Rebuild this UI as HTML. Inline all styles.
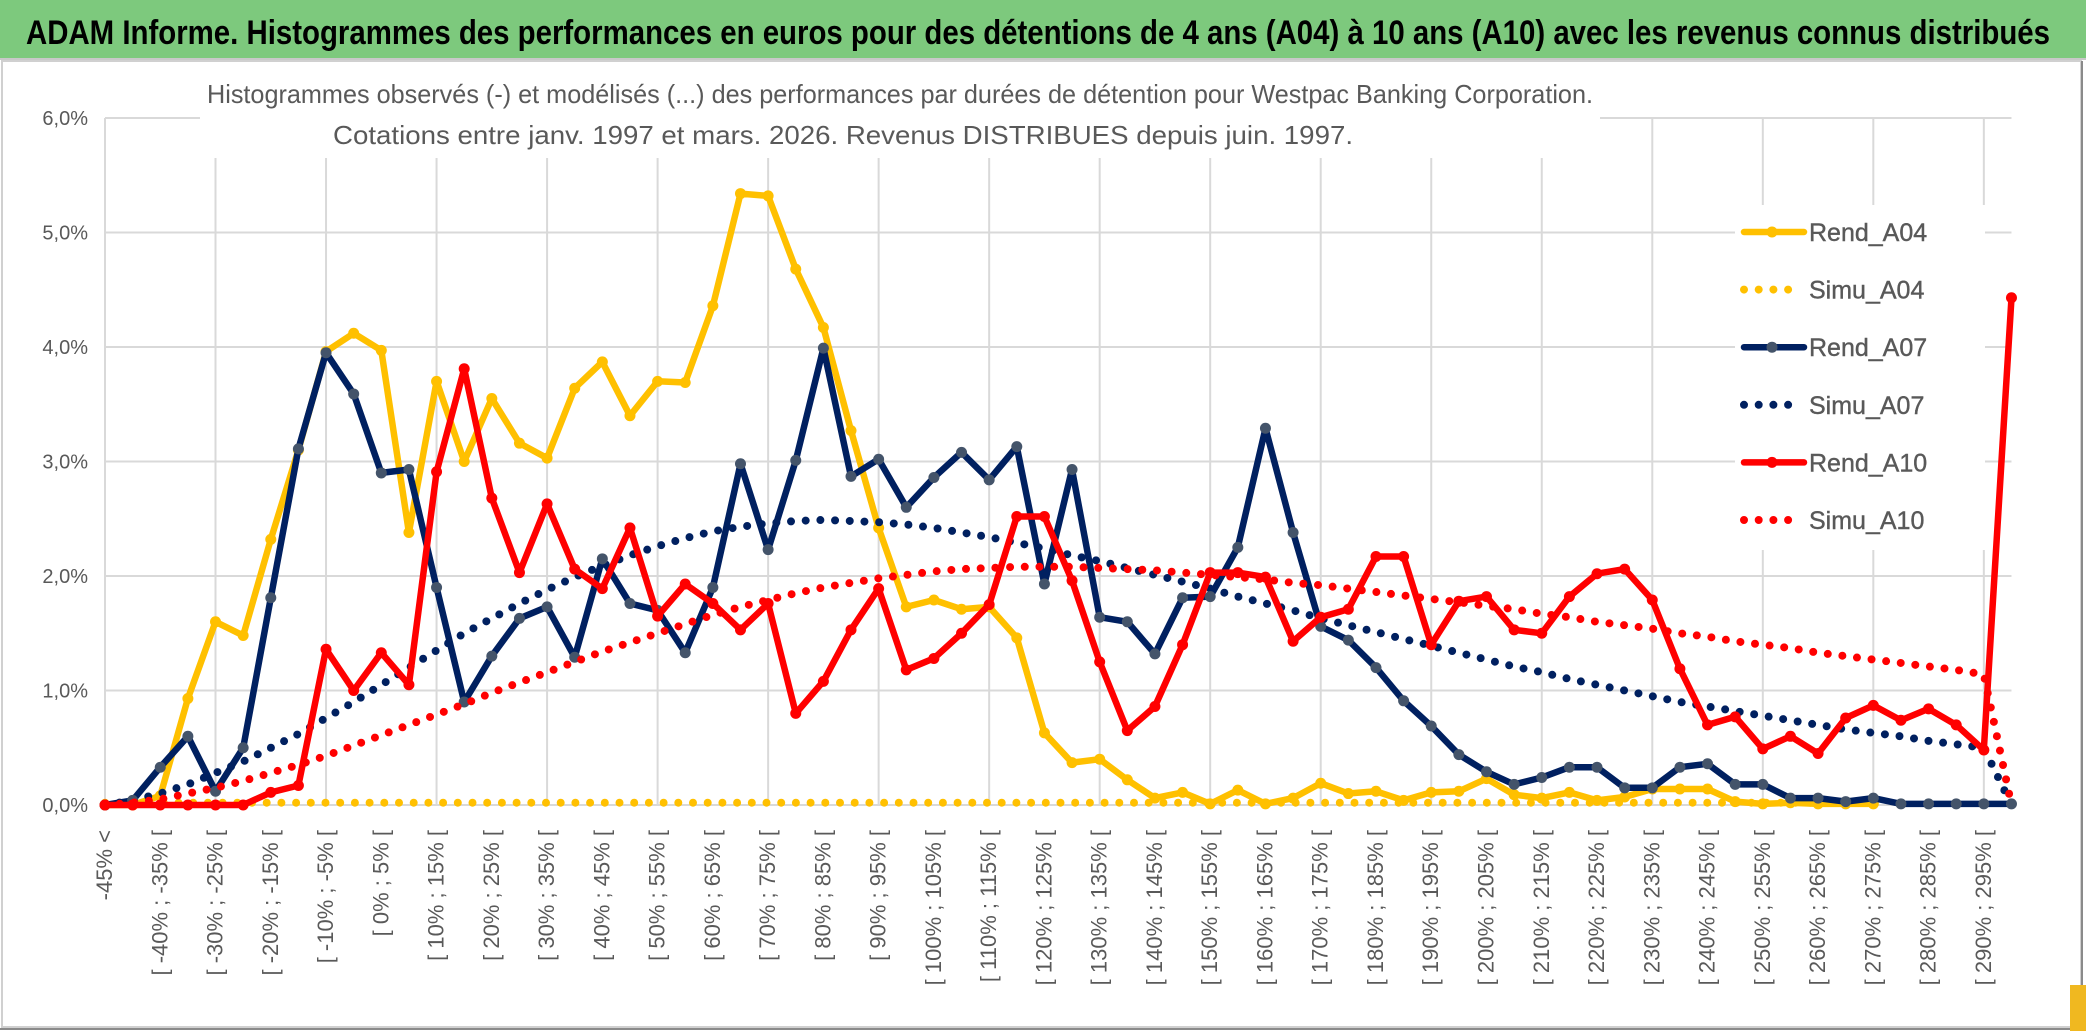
<!DOCTYPE html>
<html><head><meta charset="utf-8"><style>
html,body{margin:0;padding:0;background:#fff;}
svg{display:block;font-family:"Liberation Sans",sans-serif;}
</style></head><body>
<svg id="chart" width="2086" height="1031" viewBox="0 0 2086 1031" xmlns="http://www.w3.org/2000/svg">
<rect x="0" y="0" width="2086" height="1031" fill="#fff"/>
<rect x="0" y="0" width="2086" height="58" fill="#7dc97d"/>
<line x1="0" y1="59" x2="2086" y2="59" stroke="#c8c8c8" stroke-width="2"/>
<text x="26" y="44" font-size="34" font-weight="bold" fill="#000" textLength="2024" lengthAdjust="spacingAndGlyphs">ADAM Informe. Histogrammes des performances en euros pour des détentions de 4 ans (A04) à 10 ans (A10) avec les revenus connus distribués</text>
<rect x="2" y="61" width="2079" height="966" fill="none" stroke="#d0d0d0" stroke-width="2"/>
<line x1="2082" y1="61" x2="2082" y2="1029" stroke="#8a8a8a" stroke-width="2"/>
<line x1="0" y1="1029" x2="2082" y2="1029" stroke="#8a8a8a" stroke-width="2"/>
<rect x="2070" y="985" width="16" height="46" fill="#f0b820"/>
<g id="grid"></g>
<g id="xlabels"></g>
<g id="ylabels"></g>
<rect x="200" y="64" width="1400" height="94" fill="#fff"/>
<text x="207" y="103" font-size="26" fill="#595959" textLength="1386" lengthAdjust="spacingAndGlyphs">Histogrammes observés (-) et modélisés (...) des performances par durées de détention pour Westpac Banking Corporation.</text>
<text x="333" y="144" font-size="26" fill="#595959" textLength="1020" lengthAdjust="spacingAndGlyphs">Cotations entre janv. 1997 et mars. 2026. Revenus DISTRIBUES depuis juin. 1997.</text>
<g id="series"></g>
<g id="legend"></g>
</svg>
<script>
const rendA04 = [0,0,0.08,0.93,1.6,1.48,2.32,3.1,3.96,4.12,3.97,2.38,3.7,3.0,3.55,3.16,3.03,3.64,3.87,3.4,3.7,3.69,4.36,5.34,5.32,4.68,4.17,3.27,2.42,1.73,1.79,1.71,1.73,1.46,0.63,0.37,0.4,0.22,0.06,0.11,0.01,0.13,0.01,0.06,0.19,0.1,0.12,0.04,0.11,0.12,0.23,0.09,0.06,0.11,0.04,0.07,0.14,0.14,0.14,0.03,0.01,0.02,0.01,0.01,0.01,null,null,null,null,null];
const simuA04 = [0.02,0.02,0.02,0.02,0.02,0.02,0.02,0.02,0.02,0.02,0.02,0.02,0.02,0.02,0.02,0.02,0.02,0.02,0.02,0.02,0.02,0.02,0.02,0.02,0.02,0.02,0.02,0.02,0.02,0.02,0.02,0.02,0.02,0.02,0.02,0.02,0.02,0.02,0.02,0.02,0.02,0.02,0.02,0.02,0.02,0.02,0.02,0.02,0.02,0.02,0.02,0.02,0.02,0.02,0.02,0.02,0.02,0.02,0.02,0.02,0.02,0.02,0.02,0.02,0.02,null,null,null,null,null];
const rendA07 = [0,0.04,0.33,0.6,0.12,0.5,1.81,3.11,3.95,3.59,2.9,2.93,1.9,0.9,1.3,1.63,1.73,1.29,2.15,1.76,1.7,1.33,1.9,2.98,2.23,3.01,3.99,2.87,3.02,2.6,2.86,3.08,2.84,3.13,1.93,2.93,1.64,1.6,1.32,1.81,1.82,2.25,3.29,2.38,1.56,1.44,1.2,0.91,0.69,0.44,0.29,0.18,0.24,0.33,0.33,0.15,0.15,0.33,0.36,0.18,0.18,0.06,0.06,0.03,0.06,0.01,0.01,0.01,0.01,0.01];
const simuA07 = [0,0.04,0.1,0.18,0.28,0.38,0.5,0.62,0.76,0.9,1.05,1.2,1.35,1.5,1.63,1.76,1.88,1.99,2.09,2.18,2.26,2.33,2.39,2.43,2.46,2.48,2.49,2.48,2.47,2.45,2.42,2.38,2.34,2.29,2.24,2.18,2.13,2.07,2.01,1.95,1.89,1.82,1.76,1.7,1.63,1.57,1.51,1.45,1.39,1.33,1.27,1.21,1.16,1.1,1.05,1.0,0.95,0.9,0.86,0.82,0.78,0.74,0.7,0.66,0.63,0.6,0.56,0.53,0.5,0.0];
const rendA10 = [0,0,0,0,0,0,0.11,0.17,1.36,1.0,1.33,1.05,2.91,3.81,2.68,2.03,2.63,2.06,1.89,2.42,1.65,1.93,1.76,1.53,1.76,0.8,1.08,1.53,1.89,1.18,1.28,1.5,1.75,2.52,2.52,1.96,1.25,0.65,0.86,1.4,2.03,2.03,1.99,1.43,1.64,1.71,2.17,2.17,1.4,1.78,1.82,1.53,1.5,1.82,2.02,2.06,1.79,1.19,0.7,0.77,0.49,0.6,0.45,0.76,0.87,0.74,0.84,0.7,0.48,4.43];
const simuA10 = [0,0.02,0.05,0.1,0.15,0.21,0.28,0.35,0.43,0.52,0.61,0.7,0.79,0.88,0.98,1.07,1.16,1.25,1.34,1.42,1.5,1.58,1.66,1.73,1.79,1.85,1.9,1.94,1.98,2.01,2.04,2.06,2.07,2.08,2.08,2.08,2.07,2.06,2.05,2.03,2.01,1.99,1.97,1.94,1.92,1.89,1.86,1.83,1.8,1.77,1.74,1.71,1.67,1.64,1.6,1.57,1.54,1.5,1.47,1.43,1.4,1.37,1.33,1.3,1.27,1.24,1.21,1.18,1.14,0.0];
const yTicks = [0,1,2,3,4,5,6];
const yTickLabels = ["0,0%","1,0%","2,0%","3,0%","4,0%","5,0%","6,0%"];
const categories = ["-45% <"];
for (let lo = -45; lo < 300; lo += 5) categories.push("[ " + lo + "% ; " + (lo + 5) + "% [");

const NS = "http://www.w3.org/2000/svg";
const X0 = 105, DX = 27.63, Y0 = 805, DY = 114.5;
function xs(i){ return X0 + i * DX; }
function ys(v){ return Y0 - v * DY; }
function mk(tag, attrs, parent){
  const e = document.createElementNS(NS, tag);
  for (const k in attrs) e.setAttribute(k, attrs[k]);
  parent.appendChild(e);
  return e;
}
const grid = document.getElementById("grid");
const xl = document.getElementById("xlabels");
const yl = document.getElementById("ylabels");
const ser = document.getElementById("series");
const leg = document.getElementById("legend");
const xEnd = xs(categories.length - 1);

yTicks.forEach((t, k) => {
  const l = mk("line", {x1: X0, x2: xEnd, y1: ys(t), y2: ys(t), stroke: "#d9d9d9", "stroke-width": 2}, grid);
  
  
  const tx = mk("text", {x: 88, y: ys(t) + 7, "text-anchor": "end", "font-size": 20, fill: "#595959"}, yl);
  tx.textContent = yTickLabels[k];
  
  
});
for (let i = 0; i < categories.length; i += 4) {
  const l = mk("line", {x1: xs(i), x2: xs(i), y1: ys(6), y2: Y0, stroke: "#d9d9d9", "stroke-width": 2}, grid);
  
  
}
categories.forEach((c, i) => {
  if (i % 2) return;
  const x = xs(i) + 7, y = 830;
  const t = mk("text", {x: x, y: y, transform: "rotate(-90 " + x + " " + y + ")", "text-anchor": "end", "font-size": 22, fill: "#595959"}, xl);
  t.textContent = c;
  
  
});

function drawLine(data, color, name, dotted, markerFill){
  const g = mk("g", {}, ser);
  
  
  let d = "";
  data.forEach((v, i) => {
    if (v === null) return;
    d += (d === "" ? "M" : "L") + xs(i).toFixed(1) + " " + ys(v).toFixed(1) + " ";
  });
  const attrs = {d: d, fill: "none", stroke: color, "stroke-linejoin": "round"};
  if (dotted) { attrs["stroke-width"] = 8; attrs["stroke-dasharray"] = "0 14.7"; attrs["stroke-linecap"] = "round"; }
  else { attrs["stroke-width"] = 6.5; }
  const p = mk("path", attrs, g);
  
  
  if (!dotted) {
    data.forEach((v, i) => {
      if (v === null) return;
      const c = mk("circle", {cx: xs(i), cy: ys(v), r: 5.5, fill: markerFill}, g);
      
      
    });
  }
}
drawLine(simuA04, "#ffc000", "simu-a04", true);
drawLine(rendA04, "#ffc000", "rend-a04", false, "#ffc000");
drawLine(simuA07, "#002060", "simu-a07", true);
drawLine(rendA07, "#002060", "rend-a07", false, "#44546a");
drawLine(simuA10, "#ff0000", "simu-a10", true);
drawLine(rendA10, "#ff0000", "rend-a10", false, "#ff0000");

const lb = mk("rect", {x: 1735, y: 205, width: 250, height: 345, fill: "#fff"}, leg);


const legNames = ["Rend_A04","Simu_A04","Rend_A07","Simu_A07","Rend_A10","Simu_A10"];
const legColors = ["#ffc000","#ffc000","#002060","#002060","#ff0000","#ff0000"];
const legMarker = ["#ffc000",null,"#44546a",null,"#ff0000",null];
legNames.forEach((n, k) => {
  const y = 232 + k * 57.6;
  const g = mk("g", {}, leg);
  
  
  if (legMarker[k]) {
    mk("line", {x1: 1744, x2: 1804, y1: y, y2: y, stroke: legColors[k], "stroke-width": 6.5, "stroke-linecap": "round"}, g);
    mk("circle", {cx: 1772, cy: y, r: 5.5, fill: legMarker[k]}, g);
  } else {
    mk("line", {x1: 1744, x2: 1802, y1: y, y2: y, stroke: legColors[k], "stroke-width": 8, "stroke-dasharray": "0 14.7", "stroke-linecap": "round"}, g);
  }
  const t = mk("text", {x: 1809, y: y + 9, "font-size": 25, fill: "#595959", stroke: "#595959", "stroke-width": 0.4}, g);
  t.textContent = n;
  
  
});
</script>
</body></html>
